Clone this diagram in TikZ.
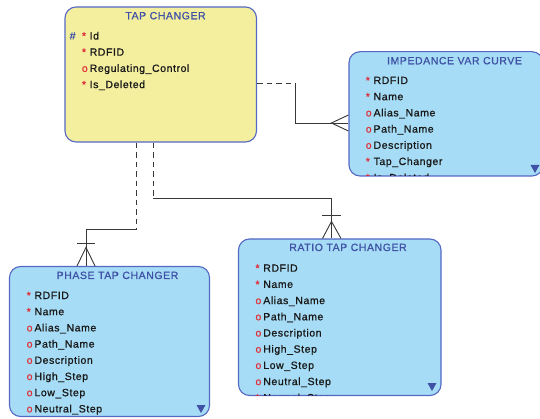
\documentclass[tikz,border=0pt]{standalone}
\usepackage{fontspec}
\setmainfont{Liberation Sans}
\newfontfamily\erfont{Liberation Sans}[LetterSpace=5.5, FakeBold=0.9]

\definecolor{yellowfill}{HTML}{F4EF9F}
\definecolor{bluefill}{HTML}{A6DCF5}
\definecolor{boxblue}{HTML}{5468C4}
\definecolor{titleblue}{HTML}{3F52A6}
\definecolor{markred}{HTML}{E0303A}
\definecolor{linegray}{HTML}{383838}

\newcommand{\mreq}{\makebox[7.8pt][l]{\textcolor{markred}{*}}}
\newcommand{\mopt}{\makebox[7.8pt][l]{\textcolor{markred}{o}}}

\tikzset{
  entity/.style={draw=boxblue, line width=1.1pt, rounded corners=11pt, inner sep=0pt},
  title/.style={text=titleblue, font=\erfont\fontsize{10.5}{12}\selectfont, inner sep=0pt, anchor=base},
  attr/.style={text=black!90, font=\erfont\fontsize{10.5}{12}\selectfont, inner sep=0pt, anchor=base west},
  rel/.style={draw=linegray, line width=0.9pt},
  fk/.style={rel, dash pattern=on 5.5pt off 4pt},
  more/.style={fill=titleblue}
}

\begin{document}
\begin{tikzpicture}
[
  x=1pt, y=-1pt
]
\useasboundingbox (0,0) rectangle (540,419);

% entities
\node[entity, fill=yellowfill, minimum width=191.5, minimum height=135] (tap) at (160.75,74.5) {};
\node[entity, fill=bluefill, minimum width=194, minimum height=124.3] (imp) at (446,113.85) {};
\node[entity, fill=bluefill, minimum width=200, minimum height=150] (phase) at (109.5,341.5) {};
\node[entity, fill=bluefill, minimum width=202.5, minimum height=156.5] (ratio) at (339.75,317.25) {};

% tap changer
\node[title] (tapT) at (165.5,19.3) {TAP CHANGER};
\node[attr, text=titleblue] (tapK) at (69.5,39.5) {\#};
\node[attr] (tap1) at (81.7,39.5) {\mreq Id};
\node[attr] (tap2) at (81.7,55.7) {\mreq RDFID};
\node[attr] (tap3) at (81.7,71.9) {\mopt Regulating\_Control};
\node[attr] (tap4) at (81.7,88.1) {\mreq Is\_Deleted};

% impedance var curve
\node[title] (impT) at (454.5,64.3) {IMPEDANCE VAR CURVE};
\begin{scope}
\clip[rounded corners=11pt] (349,51.7) rectangle (543,176);
\node[attr] (imp1) at (365.6,84) {\mreq RDFID};
\node[attr] (imp2) at (365.6,100.2) {\mreq Name};
\node[attr] (imp3) at (365.6,116.4) {\mopt Alias\_Name};
\node[attr] (imp4) at (365.6,132.6) {\mopt Path\_Name};
\node[attr] (imp5) at (365.6,148.8) {\mopt Description};
\node[attr] (imp6) at (365.6,165) {\mreq Tap\_Changer};
\node[attr] (imp7) at (365.6,181.2) {\mreq Is\_Deleted};
\end{scope}
\fill[more] (530.5,165) -- (539.5,165) -- (535,173) -- cycle;

% phase tap changer
\node[title] (phaseT) at (117.5,279) {PHASE TAP CHANGER};
\node[attr] (ph1) at (26.5,299) {\mreq RDFID};
\node[attr] (ph2) at (26.5,315.2) {\mreq Name};
\node[attr] (ph3) at (26.5,331.4) {\mopt Alias\_Name};
\node[attr] (ph4) at (26.5,347.6) {\mopt Path\_Name};
\node[attr] (ph5) at (26.5,363.8) {\mopt Description};
\node[attr] (ph6) at (26.5,380) {\mopt High\_Step};
\node[attr] (ph7) at (26.5,396.2) {\mopt Low\_Step};
\node[attr] (ph8) at (26.5,412.4) {\mopt Neutral\_Step};
\fill[more] (196.5,405) -- (205.5,405) -- (201,413) -- cycle;

% ratio tap changer
\node[title] (ratioT) at (348,251) {RATIO TAP CHANGER};
\begin{scope}
\clip[rounded corners=11pt] (238.5,239) rectangle (441,395.5);
\node[attr] (ra1) at (255.3,271.7) {\mreq RDFID};
\node[attr] (ra2) at (255.3,287.9) {\mreq Name};
\node[attr] (ra3) at (255.3,304.1) {\mopt Alias\_Name};
\node[attr] (ra4) at (255.3,320.3) {\mopt Path\_Name};
\node[attr] (ra5) at (255.3,336.5) {\mopt Description};
\node[attr] (ra6) at (255.3,352.7) {\mopt High\_Step};
\node[attr] (ra7) at (255.3,368.9) {\mopt Low\_Step};
\node[attr] (ra8) at (255.3,385.1) {\mopt Neutral\_Step};
\node[attr] (ra9) at (255.3,401.3) {\mreq Normal\_Step};
\end{scope}
\fill[more] (427.5,383) -- (436.5,383) -- (432,391) -- cycle;

% relations
\coordinate (impIn) at ([yshift=-9.15]imp.west);
\coordinate (phIn) at ([xshift=-23.5]phase.north);
\coordinate (raIn) at ([xshift=-8.25]ratio.north);

\draw[fk] ([yshift=-8.5]tap.east) -- ++(38.5,0) coordinate (b1);
\draw[rel] (b1) |- (impIn);
\draw[rel] ([yshift=8]impIn) -- ([xshift=-17]impIn) -- ([yshift=-8]impIn);

\draw[fk] ([xshift=-24.25]tap.south) -- ++(0,86.5) coordinate (b2);
\draw[rel] (b2) -| (phIn);
\draw[rel] ([xshift=-9,yshift=22.5]phIn) -- ++(18,0);
\draw[rel] ([xshift=-9]phIn) -- ([yshift=18.5]phIn) -- ([xshift=9]phIn);

\draw[fk] ([xshift=-7.75]tap.south) -- ++(0,56) coordinate (b3);
\draw[rel] (b3) -| (raIn);
\draw[rel] ([xshift=-9.5,yshift=23]raIn) -- ++(19,0);
\draw[rel] ([xshift=-9]raIn) -- ([yshift=17]raIn) -- ([xshift=9.5]raIn);
\end{tikzpicture}
\end{document}
